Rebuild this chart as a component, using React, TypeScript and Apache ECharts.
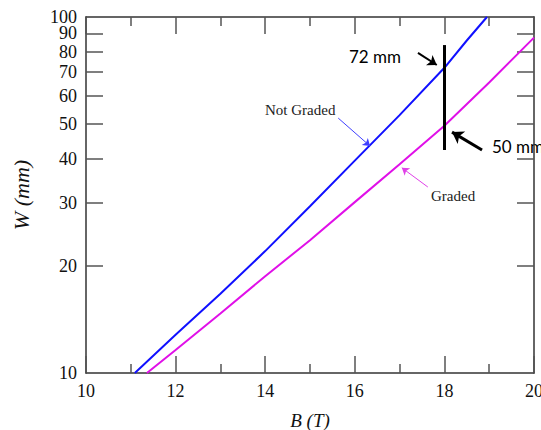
import React, { useEffect, useRef } from "react";
import * as echarts from "echarts";

const notGradedB = [11.09, 12, 13, 14, 15, 16, 17, 18, 18.5, 18.95];
const notGradedW = [10, 12.8, 16.7, 22.0, 29.4, 39.5, 53.0, 72.0, 85.9, 100];
const gradedB = [11.36, 12, 13, 14, 15, 16, 17, 18, 19, 20];
const gradedW = [10, 11.6, 14.7, 18.7, 23.6, 30.2, 38.6, 49.5, 65.5, 87.5];

const yTickValues = [20, 30, 40, 50, 60, 70, 80, 90];
const yLabelValues = [10, 20, 30, 40, 50, 60, 70, 80, 90];
const yTopLabelValues = [100];

const SERIF = "Liberation Serif, Times New Roman, serif";
const SANS = "Lato, Open Sans, sans-serif";

export default function App() {
  const ref = useRef<HTMLDivElement>(null);
  useEffect(() => {
    const chart = echarts.init(ref.current!, null, { renderer: "svg" });
    const axisLine = { show: true, lineStyle: { color: "#333", width: 1.5 } };
    const tick = { show: true, inside: true, length: 17, lineStyle: { color: "#555", width: 1.5 } };
    const xCommon = {
      type: "value" as const,
      min: 10,
      max: 20,
      interval: 2,
      axisLine,
      axisTick: tick,
      minorTick: { show: true, splitNumber: 2, length: 9, lineStyle: { color: "#555", width: 1.5 } },
      splitLine: { show: false },
      minorSplitLine: { show: false },
    };
    const yCommon = {
      type: "log" as const,
      logBase: 10,
      min: 10,
      max: 100,
      axisLine,
      axisTick: { ...tick, customValues: yTickValues },
      splitLine: { show: false },
      minorTick: { show: false },
    };
    const yLabelStyle = {
      fontFamily: SERIF, fontSize: 18, color: "#111", margin: 9,
      showMaxLabel: true, showMinLabel: true, hideOverlap: false,
    };
    const arrowLine = (from: number[], to: number[], color: string, width: number, size: number) => ({
      symbol: ["none", "arrow"],
      symbolSize: size,
      silent: true,
      label: { show: false },
      lineStyle: { color, width, type: "solid" },
      data: [[{ coord: from }, { coord: to }]],
    });
    chart.setOption({
      animation: false,
      grid: { left: 86, right: 7, top: 17, bottom: 57, containLabel: false, outerBoundsMode: "none" },
      xAxis: [
        {
          ...xCommon,
          position: "bottom",
          axisLabel: {
            fontFamily: SERIF, fontSize: 18, color: "#111", margin: 9,
            showMaxLabel: true, showMinLabel: true, hideOverlap: false,
          },
          name: "B (T)",
          nameLocation: "middle",
          nameGap: 38,
          nameTextStyle: { fontFamily: SERIF, fontSize: 19, fontStyle: "italic", color: "#111" },
        },
        { ...xCommon, position: "top", axisLabel: { show: false } },
      ],
      yAxis: [
        {
          ...yCommon,
          position: "left",
          axisLabel: { ...yLabelStyle, customValues: yLabelValues },
          name: "W (mm)",
          nameLocation: "middle",
          nameGap: 54,
          nameTextStyle: { fontFamily: SERIF, fontSize: 22, fontStyle: "italic", color: "#111" },
        },
        { ...yCommon, position: "right", axisLabel: { show: false } },
        {
          ...yCommon,
          position: "left",
          offset: 0,
          axisLine: { show: false },
          axisTick: { show: false },
          axisLabel: { ...yLabelStyle, customValues: yTopLabelValues },
        },
      ],
      series: [
        {
          type: "line",
          name: "Not Graded",
          showSymbol: false,
          symbol: "none",
          lineStyle: { color: "#1010ff", width: 2 },
          data: notGradedB.map((b, i) => [b, notGradedW[i]]),
          markLine: arrowLine([15.63, 52], [16.34, 43.4], "#4040ff", 1, 7),
        },
        {
          type: "line",
          name: "Graded",
          showSymbol: false,
          symbol: "none",
          lineStyle: { color: "#e010e8", width: 2 },
          data: gradedB.map((b, i) => [b, gradedW[i]]),
          markLine: arrowLine([17.63, 33.3], [17.05, 37.7], "#e040e8", 1, 7),
        },
        {
          type: "line",
          name: "annot1",
          data: [],
          markLine: {
            symbol: ["none", "none"],
            silent: true,
            label: { show: false },
            lineStyle: { color: "#000", width: 3, type: "solid" },
            data: [[{ coord: [18, 83.4] }, { coord: [18, 42.3] }]],
          },
        },
        {
          type: "line",
          name: "annot2",
          data: [],
          markLine: arrowLine([17.41, 79.3], [17.83, 73.3], "#000", 2, 9),
        },
        {
          type: "line",
          name: "annot3",
          data: [],
          markLine: arrowLine([18.84, 42.3], [18.17, 47.5], "#000", 3, 11),
        },
      ],
      graphic: [
        { type: "text", left: 349, top: 48, style: { text: "72 mm", font: `17px ${SANS}`, fill: "#000" } },
        { type: "text", left: 492, top: 138, style: { text: "50 mm", font: `17px ${SANS}`, fill: "#000" } },
        { type: "text", left: 265, top: 102, style: { text: "Not Graded", font: `15px ${SERIF}`, fill: "#222" } },
        { type: "text", left: 431, top: 188, style: { text: "Graded", font: `15px ${SERIF}`, fill: "#222" } },
      ],
    });
    return () => chart.dispose();
  }, []);
  return (
    <div
      ref={ref}
      style={{ position: "fixed", left: 0, top: 0, width: 541, height: 430, background: "#fff" }}
    />
  );
}
